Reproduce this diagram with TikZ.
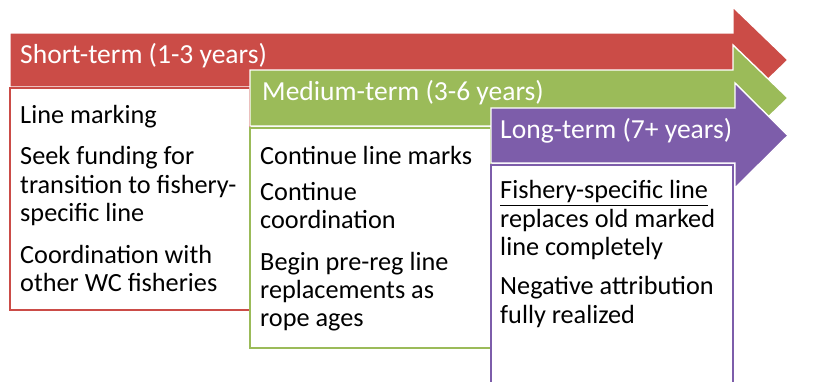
\documentclass[tikz,border=0pt]{standalone}
\usepackage{fontspec}
\setmainfont{Carlito}
\usepackage{tikz}
\usetikzlibrary{positioning}

\definecolor{termred}{HTML}{CB4C47}
\definecolor{termgreen}{HTML}{9BBB59}
\definecolor{termpurple}{HTML}{7D5DAA}

\begin{document}
\begin{tikzpicture}[x=0.03cm, y=-0.03cm,
    % Band and box styles
    band/.style={draw=white, line width=1.2pt, line join=miter},
    box/.style={line width=1pt, fill=white},
    title/.style={anchor=base west, inner sep=0pt, text=white, font=\fontsize{23.5}{26}\selectfont},
    body/.style={anchor=north west, inner sep=0pt, align=left, font=\fontsize{22.4}{24}\selectfont}
]

% Page
\clip (0,0) rectangle (817,381);
\fill[white] (0,0) rectangle (817,381);

% Short-term band and box
\fill[termred, band] (10,33) -- (733,33) -- (733,7) -- (788,60) -- (733,113) -- (733,87) -- (10,87) -- cycle;
\filldraw[box, draw=termred] (10,88) rectangle (250,310);
\node[title] (shortT) at (20,63) {Short-term (1-3 years)};
\node[body] (shortB) at (20,104) {\strut Line marking\\[11pt]
    Seek funding for\\transition to fishery-\\specific line\\[12pt]
    Coordination with\\other WC fisheries};

% Medium-term band and box
\fill[termgreen, band] (250,70) -- (733,70) -- (733,45) -- (788,98) -- (733,151) -- (733,126) -- (250,126) -- cycle;
\filldraw[box, draw=termgreen] (250,128) rectangle (491,348);
\node[title] (mediumT) at (262,100) {Medium-term (3-6 years)};
\node[body] (mediumB) at (260,145) {\strut Continue line marks\\[6pt]
    Continue\\coordination\\[12pt]
    Begin pre-reg line\\replacements as\\rope ages};

% Long-term band and box
\fill[termpurple, band] (491,108) -- (735,108) -- (735,83) -- (788,135.5) -- (735,188) -- (735,163) -- (491,163) -- cycle;
\filldraw[box, draw=termpurple] (491,165) rectangle (733,395);
\node[title] (longT) at (500,138) {Long-term (7+ years)};
\node[body] (longB) at (500,179) {\strut\underline{Fishery-specific line}\\replaces old marked\\line completely\\[10pt]
    Negative attribution\\fully realized};

\end{tikzpicture}
\end{document}
